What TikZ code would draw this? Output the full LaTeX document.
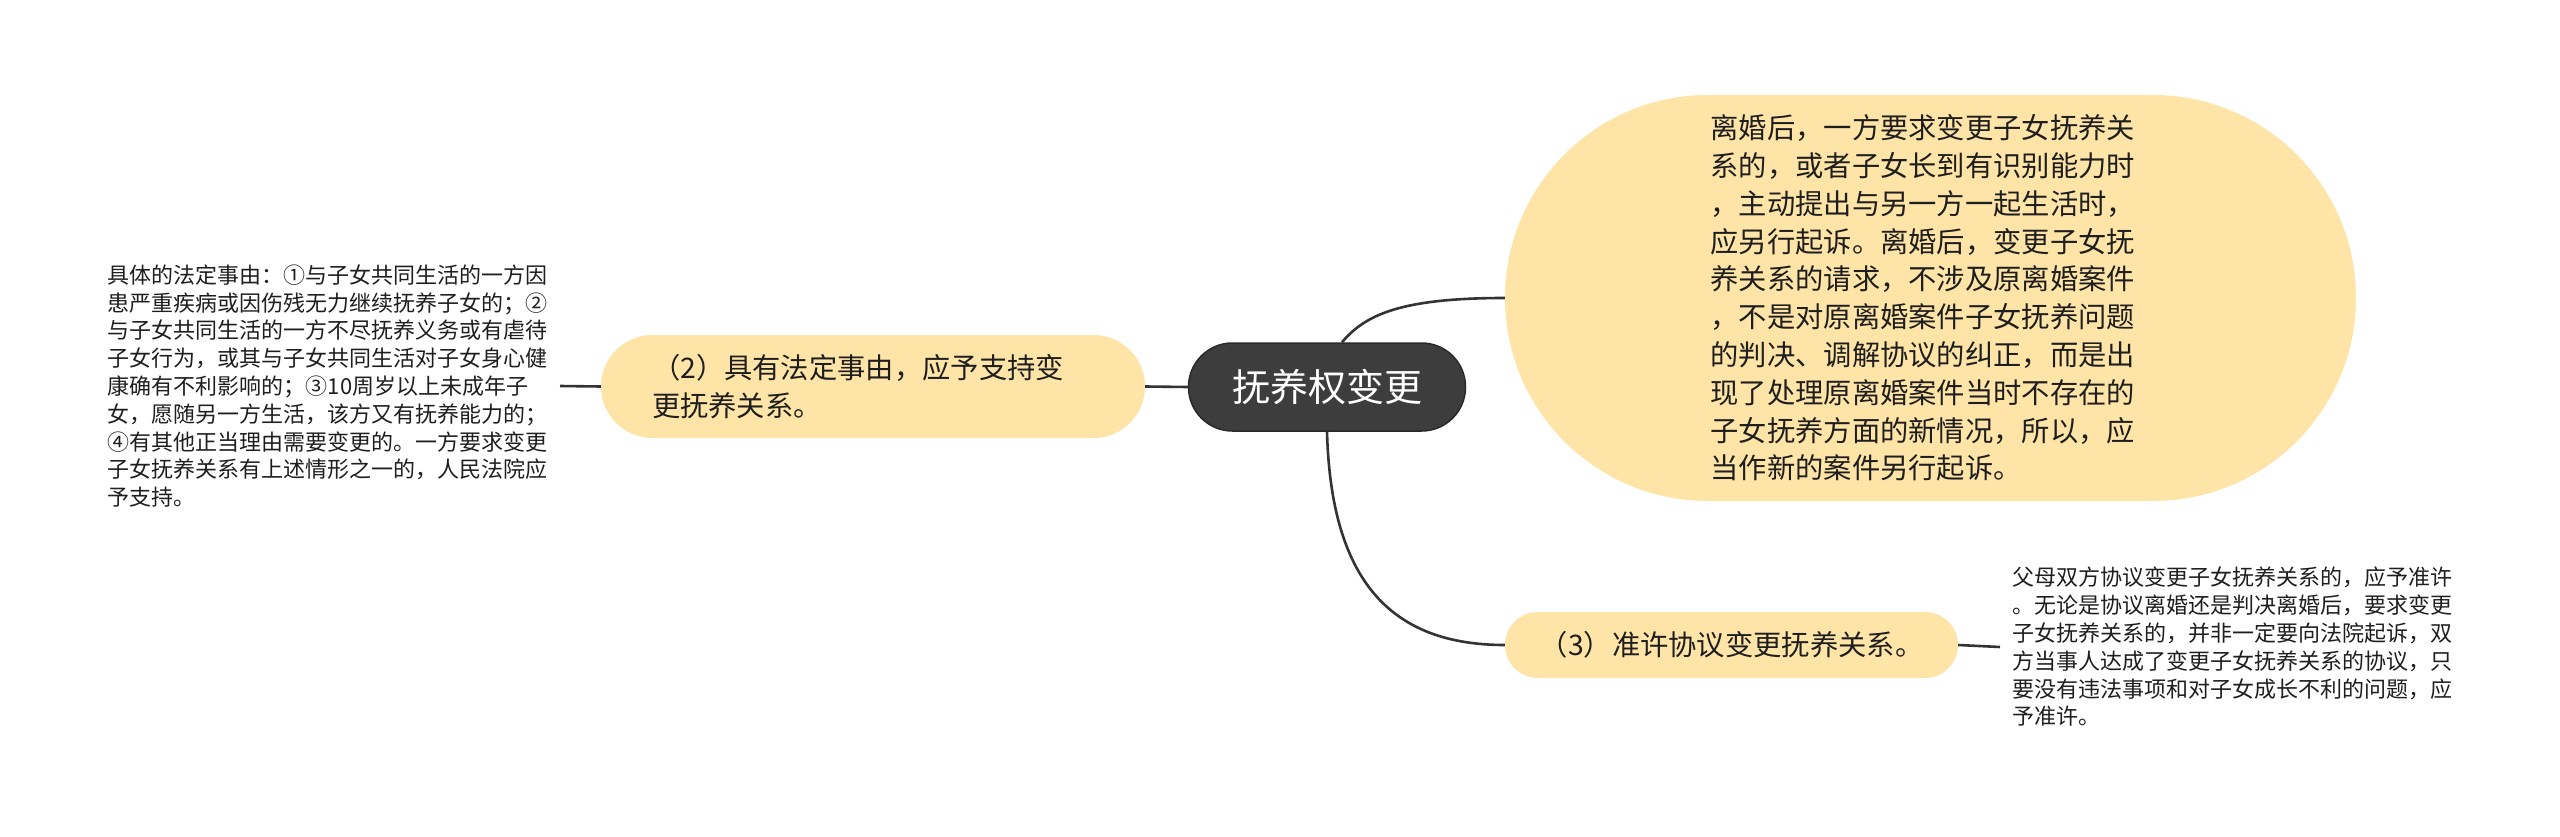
\documentclass[tikz,border=0pt]{standalone}
\usepackage{fontspec}
\setmainfont{Noto Sans CJK SC}
\definecolor{peach}{HTML}{FFE4A8}
\definecolor{rootfill}{HTML}{3D3D3D}
\definecolor{rootedge}{HTML}{2A2A2A}
\definecolor{linec}{HTML}{333333}
\definecolor{textc}{HTML}{1E1E1E}
\tikzset{
  topicbox/.style={fill=peach, inner sep=0pt, text=textc, align=left,
    font=\fontsize{28.3}{37.8}\selectfont},
  leafbox/.style={inner xsep=12pt, inner ysep=0pt, text=textc, align=left,
    font=\fontsize{22}{27.8}\selectfont},
  conn/.style={draw=linec, line width=2.6pt},
}
\begin{document}
\begin{tikzpicture}[x=1pt,y=-1pt]
\useasboundingbox (0,0) rectangle (2560,837);

\node[fill=rootfill, draw=rootedge, line width=1.5pt, minimum width=277pt,
  minimum height=88pt, rounded corners=43.9pt, inner sep=0pt, text=white,
  font=\fontsize{38}{46}\selectfont] (root) at (1327,387) {抚养权变更};

\node[topicbox, text width=442pt, minimum width=544pt, minimum height=103pt,
  rounded corners=51.4pt] (n2) at (873,386.5)
  {（2）具有法定事由，应予支持变\\更抚养关系。};

\node[topicbox, text width=440pt, minimum width=851pt, minimum height=406pt,
  rounded corners=202.9pt] (big) at (1930.5,298)
  {离婚后，一方要求变更子女抚养关\\
   系的，或者子女长到有识别能力时\\
   ，主动提出与另一方一起生活时，\\
   应另行起诉。离婚后，变更子女抚\\
   养关系的请求，不涉及原离婚案件\\
   ，不是对原离婚案件子女抚养问题\\
   的判决、调解协议的纠正，而是出\\
   现了处理原离婚案件当时不存在的\\
   子女抚养方面的新情况，所以，应\\
   当作新的案件另行起诉。};

\node[topicbox, minimum width=453pt, minimum height=66pt,
  rounded corners=32.9pt] (n3) at (1731.5,645)
  {（3）准许协议变更抚养关系。};

\node[leafbox, anchor=east] (leafL) at (560,386)
  {具体的法定事由：①与子女共同生活的一方因\\
   患严重疾病或因伤残无力继续抚养子女的；②\\
   与子女共同生活的一方不尽抚养义务或有虐待\\
   子女行为，或其与子女共同生活对子女身心健\\
   康确有不利影响的；③10周岁以上未成年子\\
   女，愿随另一方生活，该方又有抚养能力的；\\
   ④有其他正当理由需要变更的。一方要求变更\\
   子女抚养关系有上述情形之一的，人民法院应\\
   予支持。};

\node[leafbox, anchor=west] (leafR) at (2000,647)
  {父母双方协议变更子女抚养关系的，应予准许\\
   。无论是协议离婚还是判决离婚后，要求变更\\
   子女抚养关系的，并非一定要向法院起诉，双\\
   方当事人达成了变更子女抚养关系的协议，只\\
   要没有违法事项和对子女成长不利的问题，应\\
   予准许。};

\draw[conn] (leafL.east) -- (n2.west);
\draw[conn] (n2.east) -- (root.west);
\draw[conn] ([xshift=15pt]root.north) .. controls (1365,315) and (1400,298) .. (big.west);
\draw[conn] (root.south) .. controls (1331,580) and (1390,645) .. (n3.west);
\draw[conn] (n3.east) -- (leafR.west);
\end{tikzpicture}
\end{document}
